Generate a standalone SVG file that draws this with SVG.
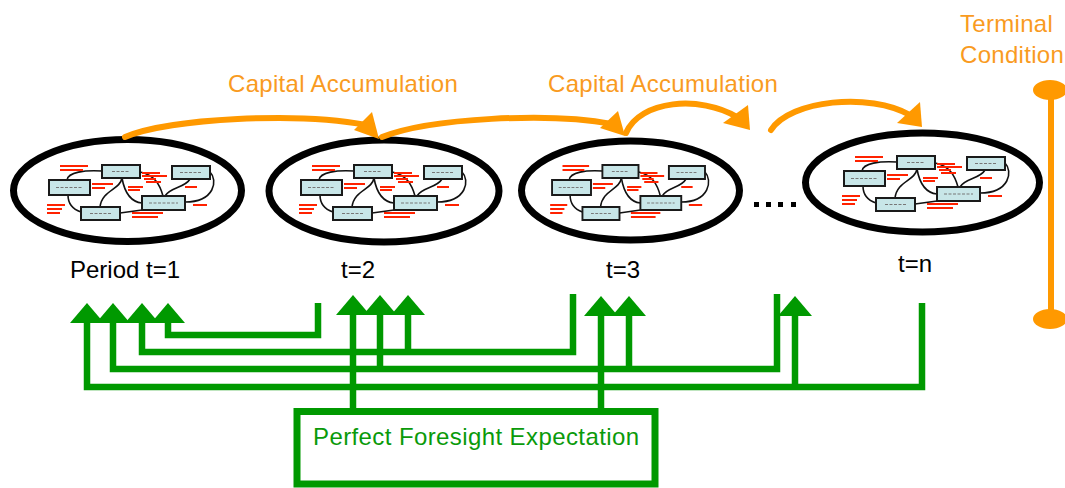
<svg xmlns="http://www.w3.org/2000/svg" xmlns:xlink="http://www.w3.org/1999/xlink" width="1065" height="488" viewBox="0 0 1065 488">
<style>
.oval{fill:#fff;stroke:#000;stroke-width:7}
.lbl{font-family:"Liberation Sans",Arial,sans-serif;font-size:24px;fill:#000}
.org{font-family:"Liberation Sans",Arial,sans-serif;font-size:24px;fill:#f99b1f;letter-spacing:0.3px}
.grn{font-family:"Liberation Sans",Arial,sans-serif;font-size:24px;fill:#0a9a0a;letter-spacing:0.4px}
.oarc{fill:none;stroke:#ff9900;stroke-width:6;stroke-linecap:round}
.ohead{fill:#ff9900}
.gl{fill:none;stroke:#009900;stroke-width:6.5;stroke-linejoin:miter}
.box{fill:#c8e6e8;stroke:#1a1a1a;stroke-width:2}
.btx{stroke:#777;stroke-width:1;stroke-dasharray:3 1.5}
.cur{fill:none;stroke:#111;stroke-width:1.6}
.red{stroke:#ff2200;stroke-width:1.8}
</style>
<defs>
<marker id="gArrow" markerUnits="userSpaceOnUse" markerWidth="22" markerHeight="36" refX="0" refY="17" orient="auto" overflow="visible">
<path d="M0,0 L20,17 L0,34 Z" fill="#009900"/>
</marker>
<g id="mini">
<path class="cur" d="M-63,-10 C-62,-18 -45,-20 -28,-19"/>
<path class="cur" d="M-62,5 C-62,15 -55,20 -49,22"/>
<path class="cur" d="M-8,-12 C-10,0 -28,0 -30,17"/>
<path class="cur" d="M-8,-12 C-5,5 2,12 12,13"/>
<path class="cur" d="M10,-18 C25,-15 30,-5 33,6"/>
<path class="cur" d="M60,-11 C55,-2 40,-3 35,6"/>
<path class="cur" d="M80,-18 C88,-10 85,12 55,12"/>
<path class="cur" d="M-10,23 L12,20"/>
<rect class="box" x="-28" y="-25" width="38" height="13"/>
<rect class="box" x="42" y="-24" width="38" height="13"/>
<rect class="box" x="-81" y="-10" width="41" height="15"/>
<rect class="box" x="-49" y="17" width="39" height="13"/>
<rect class="box" x="12" y="6" width="43" height="14"/>
<path class="btx" d="M-18,-18.5 H0 M50,-17.5 H72 M-74,-2.5 H-47 M-40,23.5 H-19 M19,13 H48"/>
<path class="red" d="M-70,-24 H-42 M-70,-20 H-47 M12,-17 H30 M12,-14 H37 M14,-11 H26 M16,-8 H31 M-38,-6 H-17 M-38,-2 H-25 M-2,-3 H13 M-2,0 H10 M-83,15 H-65 M-83,19 H-68 M-83,23 H-70 M2,23 H33 M2,27 H28 M55,-3 H67 M63,15 H77"/>
</g>
</defs>

<g id="period1">
<ellipse class="oval" cx="127.5" cy="190.5" rx="114" ry="51"/>
<use xlink:href="#mini" transform="translate(130,190)"/>
<text class="lbl" x="70" y="278">Period t=1</text>
</g>
<g id="period2">
<ellipse class="oval" cx="384" cy="191" rx="115" ry="51"/>
<use xlink:href="#mini" transform="translate(382,190)"/>
<text class="lbl" x="358" y="278" text-anchor="middle">t=2</text>
</g>
<g id="period3">
<ellipse class="oval" cx="630.5" cy="190.5" rx="109" ry="49.5"/>
<use xlink:href="#mini" transform="translate(629,190) scale(0.95,1)"/>
<text class="lbl" x="623" y="278" text-anchor="middle">t=3</text>
</g>
<g id="ellipsis">
<rect x="754" y="202" width="5" height="5"/>
<rect x="766" y="202" width="5" height="5"/>
<rect x="778" y="202" width="5" height="5"/>
<rect x="791" y="202" width="5" height="5"/>
</g>
<g id="periodn">
<ellipse class="oval" cx="922.5" cy="182.5" rx="117" ry="49.5"/>
<use xlink:href="#mini" transform="translate(925,181)"/>
<text class="lbl" x="915" y="272" text-anchor="middle">t=n</text>
</g>
<g id="terminal">
<text class="org" x="960" y="32">Terminal</text>
<text class="org" x="960" y="63">Condition</text>
<line x1="1051" y1="90" x2="1051" y2="319" stroke="#ff9900" stroke-width="6"/>
<ellipse cx="1050" cy="90" rx="17" ry="10" fill="#ff9900"/>
<ellipse cx="1050" cy="319" rx="17" ry="10" fill="#ff9900"/>
</g>
<g id="labels">
<text class="org" x="228" y="92">Capital Accumulation</text>
<text class="org" x="548" y="92">Capital Accumulation</text>
</g>
<g id="expectation">
<rect x="297" y="411.5" width="358" height="72.5" fill="#fff" stroke="#009900" stroke-width="7"/>
<text class="grn" x="313" y="445">Perfect Foresight Expectation</text>
</g>

<g id="connectors">
<path class="oarc" d="M125,137 C170,118 300,112 366,125"/>
<polygon class="ohead" points="379,139 372,112 354,130"/>
<path class="oarc" d="M382,137 C430,118 550,112 612,124"/>
<polygon class="ohead" points="625,136 618,111 600,128"/>
<path class="oarc" d="M626,133 C640,100 700,95 737,117"/>
<polygon class="ohead" points="750,130 748,105 723,123"/>
<path class="oarc" d="M771,130 C790,100 870,92 910,115"/>
<polygon class="ohead" points="922,127 920,102 897,123"/>

<path class="gl" d="M922,303 V387 H87 V323" marker-end="url(#gArrow)"/>
<path class="gl" d="M353,408 V315" marker-end="url(#gArrow)"/>
<path class="gl" d="M601,408 V316" marker-end="url(#gArrow)"/>
<path class="gl" d="M795,387 V316" marker-end="url(#gArrow)"/>
<path class="gl" d="M777,294 V369 H113 V323" marker-end="url(#gArrow)"/>
<path class="gl" d="M380,369 V315" marker-end="url(#gArrow)"/>
<path class="gl" d="M629,369 V316" marker-end="url(#gArrow)"/>
<path class="gl" d="M573,294 V352 H142 V323" marker-end="url(#gArrow)"/>
<path class="gl" d="M408,352 V315" marker-end="url(#gArrow)"/>
<path class="gl" d="M318,303 V335 H168 V323" marker-end="url(#gArrow)"/>
</g>
</svg>
